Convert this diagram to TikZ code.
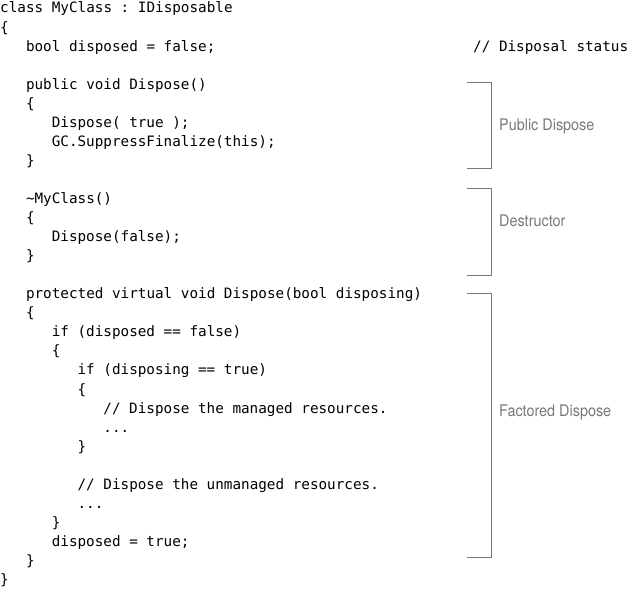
\documentclass[tikz,border=0pt]{standalone}
\usepackage{fontspec}
\setmonofont{DejaVu Sans Mono}
\newfontfamily\notefont[FakeStretch=0.9]{TeX Gyre Heros}
\usepackage{tikz}
\usetikzlibrary{positioning}
\definecolor{notegray}{RGB}{120,120,120}

\begin{document}
\begin{tikzpicture}[x=1pt,y=-1pt,every node/.style={inner sep=0pt,anchor=base west},
    code/.style={font=\ttfamily\fontsize{14.3}{19}\selectfont},
    note/.style={font=\notefont\fontsize{16}{19}\selectfont,text=notegray},
    bracket/.style={notegray,line width=1pt}]
    \useasboundingbox (0,0) rectangle (627,594);
    \def\cw{8.6}   % width of one character
    \def\lh{19.05} % height of one line

    % code lines: line number / column / text
    \foreach \i/\c/\t in {0/0/{class MyClass : IDisposable}, 1/0/{\{},
        2/3/{bool disposed = false;},
        4/3/{public void Dispose()}, 5/3/{\{}, 6/6/{Dispose( true );},
        7/6/{GC.SuppressFinalize(this);}, 8/3/{\}},
        10/3/{\textasciitilde MyClass()}, 11/3/{\{}, 12/6/{Dispose(false);}, 13/3/{\}},
        15/3/{protected virtual void Dispose(bool disposing)}, 16/3/{\{},
        17/6/{if (disposed == false)}, 18/6/{\{},
        19/9/{if (disposing == true)}, 20/9/{\{},
        21/12/{// Dispose the managed resources.}, 22/12/{...}, 23/9/{\}},
        25/9/{// Dispose the unmanaged resources.}, 26/9/{...}, 27/6/{\}},
        28/6/{disposed = true;}, 29/3/{\}}, 30/0/{\}}} {
      \node[code] (l\i) at (\c*\cw, 13+\i*\lh) {\t};
    }
    \node[code] (status) at (55*\cw, 13+2*\lh) {// Disposal status};

    \coordinate (notecol) at (499,3.5);
    % brackets: top / bottom / line of the label / label / name
    \foreach \a/\b/\l/\n/\name in {83/168/6/Public Dispose/pub,
        188/275/11/Destructor/dtor, 293/557/21/Factored Dispose/fact} {
      \coordinate (\name-a) at (467,\a);
      \coordinate (\name-b) at (467,\b);
      \draw[bracket] (\name-a) -- ++(24,0) |- (\name-b);
      \node[note,yshift=-3.5pt] (\name) at (notecol |- l\l.base) {\n};
    }
\end{tikzpicture}
\end{document}
